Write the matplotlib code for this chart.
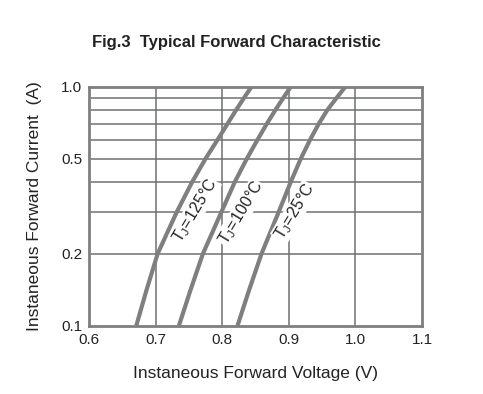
import numpy as np
import matplotlib
matplotlib.use("Agg")
import matplotlib.pyplot as plt
from matplotlib.ticker import FixedLocator, NullFormatter

plt.rcParams["font.family"] = ["Liberation Sans", "DejaVu Sans"]
plt.rcParams["mathtext.fontset"] = "custom"
plt.rcParams["mathtext.rm"] = "Liberation Sans"

# forward current (A) and voltage (V)
current = [0.1, 0.14, 0.2, 0.3, 0.4, 0.5, 0.6, 0.7, 0.8, 0.9, 1.0]
v_125 = [0.671, 0.686, 0.703, 0.732, 0.755, 0.775, 0.793, 0.808, 0.821, 0.833, 0.844]
v_100 = [0.735, 0.752, 0.771, 0.799, 0.819, 0.837, 0.853, 0.867, 0.880, 0.892, 0.903]
v_25 = [0.823, 0.840, 0.859, 0.885, 0.903, 0.918, 0.932, 0.945, 0.958, 0.972, 0.985]

labels = ["125", "100", "25"]
label_pos = [(0.759, 0.303), (0.828, 0.296), (0.909, 0.300)]

x_ticks = [0.6, 0.7, 0.8, 0.9, 1.0, 1.1]
y_ticks = [0.1, 0.2, 0.5, 1.0]
y_grid = [0.2, 0.3, 0.4, 0.5, 0.6, 0.7, 0.8, 0.9]

grid_c = "#6e7270"
curve_c = "#7f7f7f"

fig = plt.figure(figsize=(4.83, 3.94), dpi=100)
ax = fig.add_axes([0.1843, 0.1733, 0.6894, 0.6066])
ax.set_yscale("log")
ax.set_xlim(0.6, 1.1)
ax.set_ylim(0.1, 1.0)

for y in y_grid:
    ax.axhline(y, color=grid_c, lw=1.1, zorder=1)
for x in x_ticks[1:-1]:
    ax.axvline(x, color=grid_c, lw=1.1, zorder=1)

for v in (v_125, v_100, v_25):
    ax.plot(v, current, color=curve_c, lw=3, solid_capstyle="butt", zorder=3)

for t, (x, y) in zip(labels, label_pos):
    ax.text(x, y, r"T$_\mathregular{J}$=" + t + "°C", rotation=59, fontsize=11.5,
            ha="center", va="center", color="#222222", zorder=4,
            bbox=dict(facecolor="white", edgecolor="none", pad=0.5))

ax.xaxis.set_major_locator(FixedLocator(x_ticks))
ax.yaxis.set_major_locator(FixedLocator(y_ticks))
ax.yaxis.set_minor_locator(FixedLocator([]))
ax.yaxis.set_minor_formatter(NullFormatter())
ax.set_xticklabels([f"{x:.1f}" for x in x_ticks])
ax.set_yticklabels([f"{y:.1f}" for y in y_ticks])
ax.tick_params(length=0, labelsize=11, pad=5, colors="#222222")

for s in ax.spines.values():
    s.set_color(curve_c)
    s.set_linewidth(2)
    s.set_zorder(5)

ax.set_xlabel("Instaneous Forward Voltage (V)", fontsize=12.5, labelpad=14, color="#222222")
ax.set_ylabel("Instaneous Forward Current  (A)", fontsize=12.5, labelpad=14, color="#222222")
fig.text(0.49, 0.893, "Fig.3  Typical Forward Characteristic", fontsize=12,
         fontweight="bold", ha="center", va="center", color="#222222")

fig.savefig("out.png", dpi=100)
